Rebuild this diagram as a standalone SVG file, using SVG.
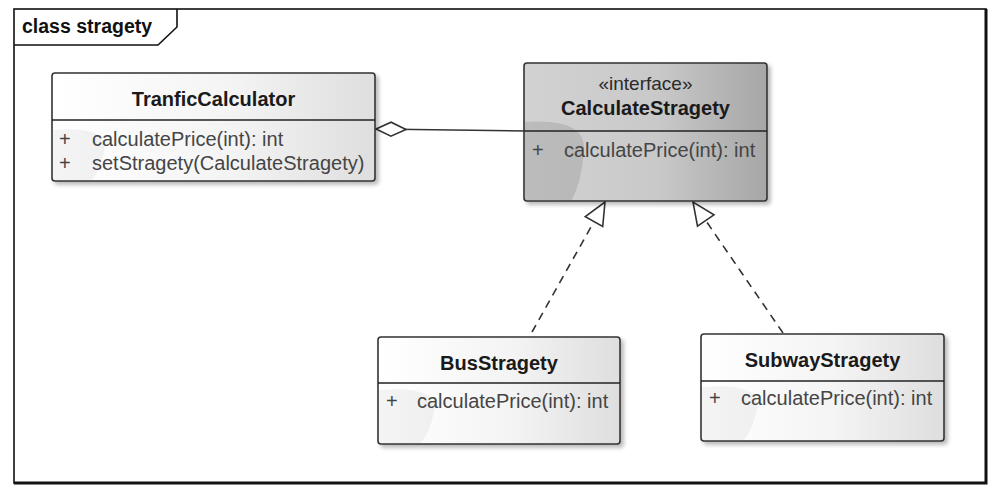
<svg xmlns="http://www.w3.org/2000/svg" width="1000" height="493" viewBox="0 0 1000 493">
<style>
.frame{fill:none;stroke:#111;stroke-width:1.6}
.box{stroke:#333;stroke-width:1.6}
.div{stroke:#222;stroke-width:1.6}
.title{font-family:"Liberation Sans",Arial,sans-serif;font-weight:bold;font-size:20px;fill:#1a1a1a;text-anchor:middle}
.stereo{font-family:"Liberation Sans",Arial,sans-serif;font-size:19px;fill:#2a2a2a;text-anchor:middle}
.op{font-family:"Liberation Sans",Arial,sans-serif;font-size:20px;fill:#454545}
.lbl{font-family:"Liberation Sans",Arial,sans-serif;font-weight:bold;font-size:19.5px;fill:#111}
.assoc{stroke:#333;stroke-width:1.6;fill:none}
.real{stroke:#333;stroke-width:1.6;fill:none;stroke-dasharray:8 6}
.sw{fill:#000;opacity:0.045}
.swi{fill:#000;opacity:0.1}
</style>
<defs>
<linearGradient id="gW" x1="0" y1="0" x2="1" y2="0">
<stop offset="0" stop-color="#ffffff"/>
<stop offset="0.55" stop-color="#f4f4f4"/>
<stop offset="1" stop-color="#dedede"/>
</linearGradient>
<linearGradient id="gI" x1="0" y1="0" x2="1" y2="0">
<stop offset="0" stop-color="#d2d2d2"/>
<stop offset="0.55" stop-color="#c9c9c9"/>
<stop offset="1" stop-color="#a6a6a6"/>
</linearGradient>
<filter id="sh" x="-5%" y="-5%" width="115%" height="125%">
<feGaussianBlur in="SourceAlpha" stdDeviation="2"/>
<feOffset dx="3" dy="3"/>
<feComponentTransfer><feFuncA type="linear" slope="0.28"/></feComponentTransfer>
<feMerge><feMergeNode/><feMergeNode in="SourceGraphic"/></feMerge>
</filter>
<marker id="tri" markerUnits="userSpaceOnUse" markerWidth="26" markerHeight="24" viewBox="0 0 26 24" refX="24" refY="12" orient="auto">
<path d="M1.5,2 L24,12 L1.5,22 Z" fill="#fff" stroke="#333" stroke-width="1.6"/>
</marker>
<marker id="dia" markerUnits="userSpaceOnUse" markerWidth="34" markerHeight="18" viewBox="0 0 34 18" refX="1.5" refY="9" orient="auto">
<path d="M1.5,9 L16.5,2 L31.5,9 L16.5,16 Z" fill="#fff" stroke="#333" stroke-width="1.6"/>
</marker>
</defs>

<rect x="0" y="0" width="1000" height="493" fill="#fff"/>

<g id="frame">
<rect class="frame" x="14" y="9" width="972" height="474"/>
<path d="M986,9 V483 H14" fill="none" stroke="#111" stroke-width="3"/>
<path class="frame" d="M14,45 H158 L177,27 V9"/>
<text class="lbl" x="22" y="33">class stragety</text>
</g>

<g id="connectors">
<line class="assoc" x1="376" y1="129" x2="524" y2="131" marker-start="url(#dia)"/>
<line class="real" x1="532" y1="332" x2="605" y2="202" marker-end="url(#tri)"/>
<line class="real" x1="783" y1="333" x2="693" y2="202" marker-end="url(#tri)"/>
</g>

<g id="TranficCalculator">
<rect class="box" x="52" y="73" width="323" height="108" rx="3" fill="url(#gW)" filter="url(#sh)"/>
<path class="sw" d="M53,130 Q110,125 104,152 Q100,170 92,180 L53,180 Z"/>
<line class="div" x1="52" y1="120" x2="375" y2="120"/>
<text class="title" x="213.5" y="106">TranficCalculator</text>
<text class="op" x="59" y="146">+</text>
<text class="op" x="92" y="146">calculatePrice(int): int</text>
<text class="op" x="59" y="170">+</text>
<text class="op" x="92" y="170">setStragety(CalculateStragety)</text>
</g>

<g id="CalculateStragety">
<rect class="box" x="524" y="63" width="243" height="138" rx="3" fill="url(#gI)" filter="url(#sh)"/>
<path class="swi" d="M525,122 Q586,118 584,150 Q582,180 572,200 L525,200 Z"/>
<line class="div" x1="524" y1="131" x2="767" y2="131"/>
<text class="stereo" x="645.5" y="90">«interface»</text>
<text class="title" x="645.5" y="115">CalculateStragety</text>
<text class="op" x="532" y="157">+</text>
<text class="op" x="564" y="157">calculatePrice(int): int</text>
</g>

<g id="BusStragety">
<rect class="box" x="378" y="337" width="242" height="107" rx="3" fill="url(#gW)" filter="url(#sh)"/>
<path class="sw" d="M379,390 Q440,385 434,412 Q430,432 421,443 L379,443 Z"/>
<line class="div" x1="378" y1="383" x2="620" y2="383"/>
<text class="title" x="499" y="370">BusStragety</text>
<text class="op" x="386" y="408">+</text>
<text class="op" x="417" y="408">calculatePrice(int): int</text>
</g>

<g id="SubwayStragety">
<rect class="box" x="701" y="334" width="243" height="107" rx="3" fill="url(#gW)" filter="url(#sh)"/>
<path class="sw" d="M702,387 Q763,382 757,409 Q753,429 744,440 L702,440 Z"/>
<line class="div" x1="701" y1="381" x2="944" y2="381"/>
<text class="title" x="822.5" y="367">SubwayStragety</text>
<text class="op" x="709" y="405">+</text>
<text class="op" x="741" y="405">calculatePrice(int): int</text>
</g>
</svg>
